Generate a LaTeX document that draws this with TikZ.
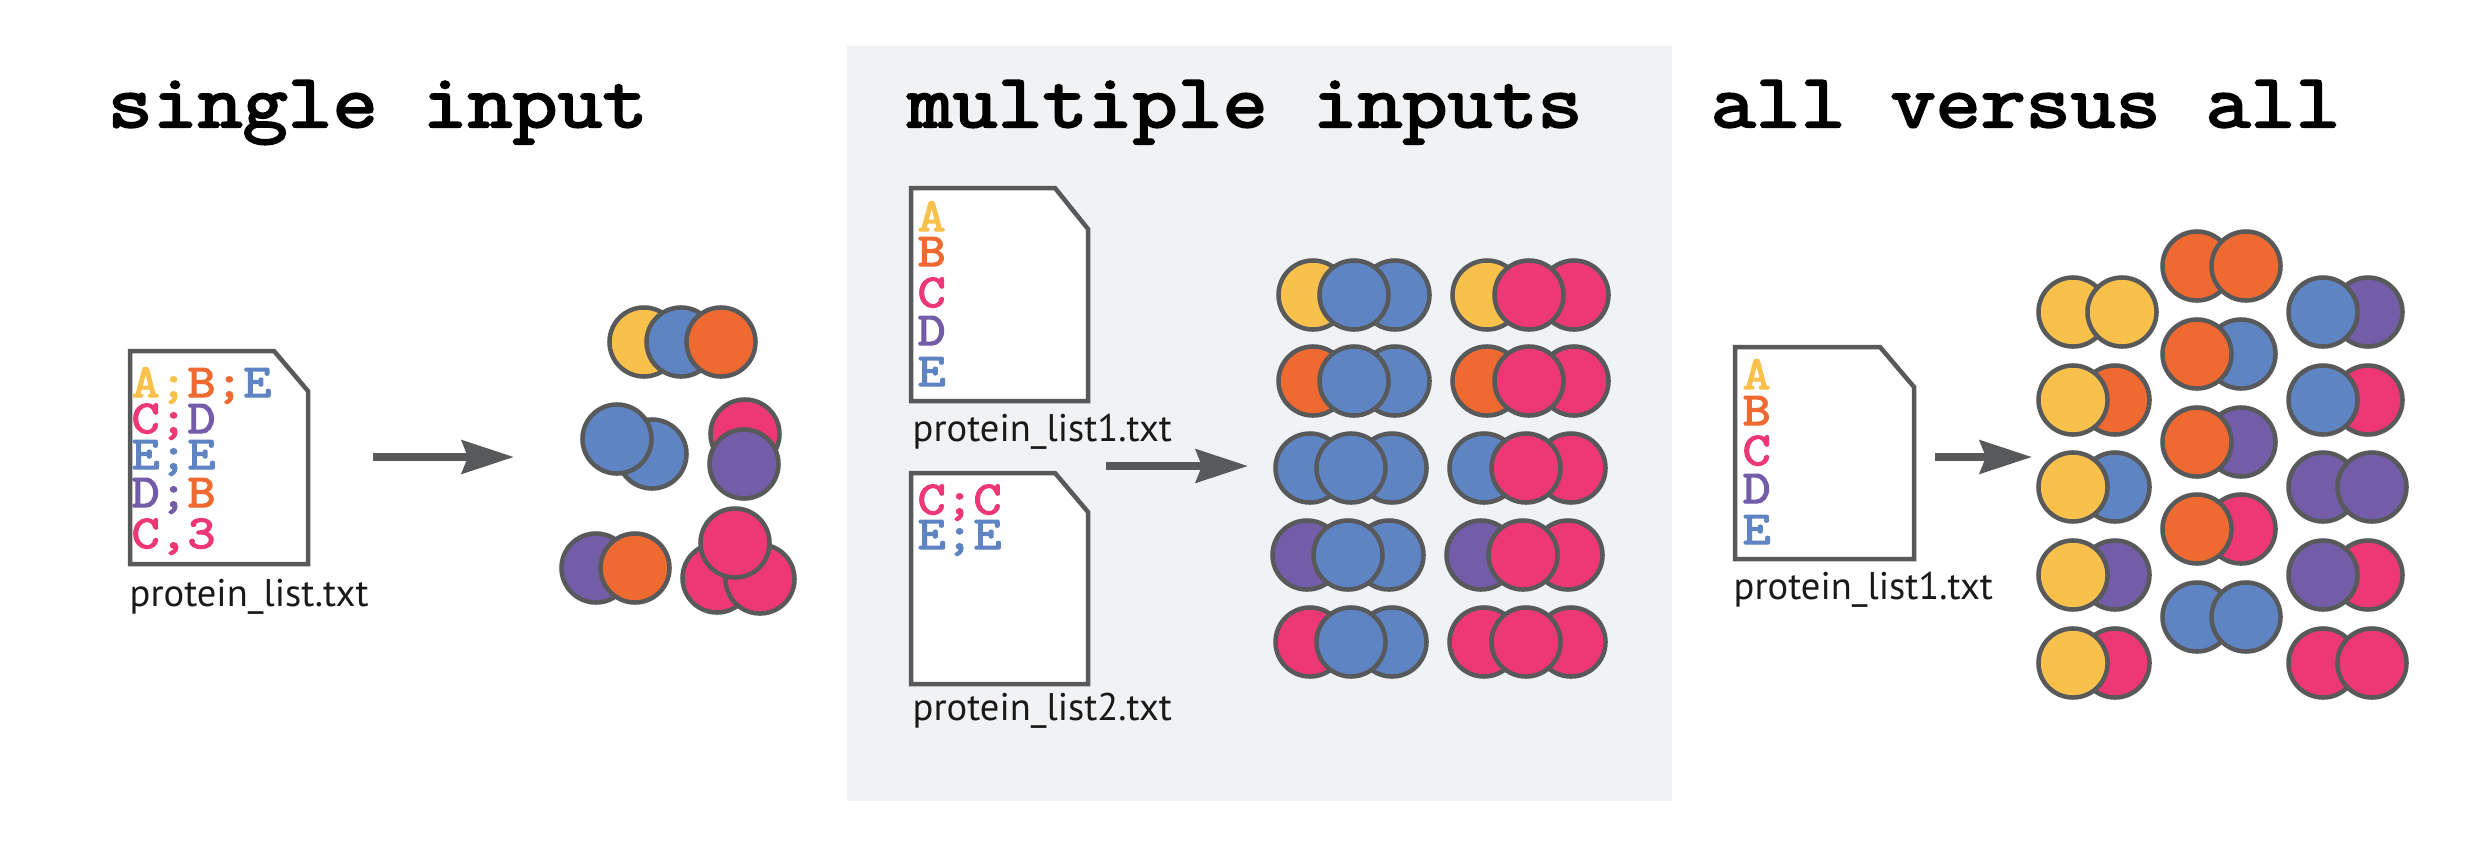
\documentclass[tikz,border=0pt]{standalone}
\usepackage{fontspec}
\setmainfont{PT Sans}
\newfontfamily\typefont[FakeBold=3, FakeStretch=1.15]{Latin Modern Mono}
\usetikzlibrary{arrows.meta}
\definecolor{cA}{HTML}{F9C04B}
\definecolor{cB}{HTML}{EE6A31}
\definecolor{cC}{HTML}{EE3775}
\definecolor{cD}{HTML}{735CA8}
\definecolor{cE}{HTML}{5F84C3}
\definecolor{edgegray}{HTML}{58595B}
\definecolor{panelgray}{HTML}{F1F2F4}
\tikzset{
  ball/.style={circle, draw=edgegray, line width=0.045cm, minimum size=0.69cm, inner sep=0pt},
  docfile/.style={draw=edgegray, fill=white, line width=0.045cm},
  flow/.style={draw=edgegray, line width=0.08cm, -{Stealth[length=0.52cm, width=0.33cm, inset=0.06cm]}},
  title/.style={anchor=base west, inner sep=0pt, font=\typefont\fontsize{21.6pt}{22pt}\selectfont},
  entry/.style={anchor=base west, inner sep=0pt, font=\typefont\fontsize{13.4pt}{13.4pt}\selectfont},
  filename/.style={anchor=base west, inner sep=0pt, text=black!90, font=\fontsize{10.95pt}{12pt}\selectfont},
}
% file outline: left, top, right, bottom, cut x, cut y
\newcommand{\docfile}[6]{\draw [docfile] (#1,#2) -- (#5,#2) -- (#3,#6) -- (#3,#4) -- (#1,#4) -- cycle;}
\begin{document}
\begin{tikzpicture}[x=0.01cm, y=-0.01cm]
\useasboundingbox (0,0) rectangle (2481,848);
\fill [panelgray] (847,46) rectangle (1672,801);

\node [title] (title1) at (107,127) {single input};
\node [title] (title2) at (907,127) {multiple inputs};
\node [title] (title3) at (1710,127) {all versus all};

% single input
\docfile{130}{351}{308}{564}{274}{391}
\node [entry] (s1) at (131,397) {\textcolor{cA}{A;}\textcolor{cB}{B;}\textcolor{cE}{E}};
\node [entry] (s2) at (131,433) {\textcolor{cC}{C;}\textcolor{cD}{D}};
\node [entry] (s3) at (131,469) {\textcolor{cE}{E;E}};
\node [entry] (s4) at (131,507) {\textcolor{cD}{D;}\textcolor{cB}{B}};
\node [entry] (s5) at (131,548) {\textcolor{cC}{C,3}};
\node [filename] (sname) at (129,606) {protein\_list.txt};
\coordinate (sa) at (373,457);
\coordinate (sb) at (514,457);
\draw [flow] (sa) -- (sb);
\node [ball, fill=cA] (y1) at (644,342) {};
\node [ball, fill=cE] (y2) at (681,342) {};
\node [ball, fill=cB] (y3) at (721,342) {};
\node [ball, fill=cE] (e2) at (652,454) {};
\node [ball, fill=cE] (e1) at (617,439) {};
\node [ball, fill=cC] (c1) at (745,434) {};
\node [ball, fill=cD] (d1) at (744,464) {};
\node [ball, fill=cD] (d2) at (596,568) {};
\node [ball, fill=cB] (b2) at (635,568) {};
\node [ball, fill=cC] (c2) at (717,578) {};
\node [ball, fill=cC] (c3) at (760,579) {};
\node [ball, fill=cC] (c4) at (735,543) {};

% multiple inputs
\docfile{911}{188}{1088}{401}{1055}{229}
\foreach \name/\col/\ypos in {A/cA/231, B/cB/266, C/cC/307, D/cD/345, E/cE/386}
  \node [entry, text=\col] (m\name) at (917,\ypos) {\name};
\node [filename] (mname1) at (912,441) {protein\_list1.txt};
\docfile{911}{473}{1088}{684}{1055}{512}
\node [entry] (m6) at (917,514) {\textcolor{cC}{C;C}};
\node [entry] (m7) at (917,549) {\textcolor{cE}{E;E}};
\node [filename] (mname2) at (912,720) {protein\_list2.txt};
\coordinate (ma) at (1106,466);
\coordinate (mb) at (1248,466);
\draw [flow] (ma) -- (mb);
\foreach \col/\x/\y in {cA/1313/295, cB/1313/381, cE/1310/468, cD/1307/555, cC/1310/642} {
  \node [ball, fill=cE] (l\y c) at (\x+82,\y) {};
  \node [ball, fill=\col] (l\y a) at (\x,\y) {};
  \node [ball, fill=cE] (l\y b) at (\x+41,\y) {};
}
\foreach \col/\x/\y in {cA/1487/295, cB/1487/381, cE/1484/468, cD/1481/555, cC/1484/642} {
  \node [ball, fill=cC] (r\y c) at (\x+87,\y) {};
  \node [ball, fill=\col] (r\y a) at (\x,\y) {};
  \node [ball, fill=cC] (r\y b) at (\x+42,\y) {};
}

% all versus all
\docfile{1735}{347}{1914}{559}{1880}{387}
\foreach \name/\col/\ypos in {A/cA/389, B/cB/425, C/cC/465, D/cD/503, E/cE/544}
  \node [entry, text=\col] (v\name) at (1742,\ypos) {\name};
\node [filename] (vname) at (1733,599) {protein\_list1.txt};
\coordinate (va) at (1935,457);
\coordinate (vb) at (2032,457);
\draw [flow] (va) -- (vb);
% column 1
\node [ball, fill=cA] (v1a) at (2073,312) {};
\node [ball, fill=cA] (v1b) at (2122,312) {};
\foreach \col/\y in {cB/400, cE/487, cD/575, cC/663} {
  \node [ball, fill=\col] (va\y) at (2115,\y) {};
  \node [ball, fill=cA] (vb\y) at (2073,\y) {};
}
% column 2
\node [ball, fill=cB] (v2a) at (2197,266) {};
\node [ball, fill=cB] (v2b) at (2246,266) {};
\foreach \col/\y in {cE/354, cD/442, cC/529} {
  \node [ball, fill=\col] (vc\y) at (2241,\y) {};
  \node [ball, fill=cB] (vd\y) at (2197,\y) {};
}
\node [ball, fill=cE] (v2c) at (2197,617) {};
\node [ball, fill=cE] (v2d) at (2246,617) {};
% column 3
\foreach \cola/\colb/\y in {cE/cD/312, cE/cC/400, cD/cC/575} {
  \node [ball, fill=\colb] (ve\y) at (2368,\y) {};
  \node [ball, fill=\cola] (vf\y) at (2323,\y) {};
}
\node [ball, fill=cD] (v3a) at (2323,487) {};
\node [ball, fill=cD] (v3b) at (2372,487) {};
\node [ball, fill=cC] (v3c) at (2323,663) {};
\node [ball, fill=cC] (v3d) at (2372,663) {};
\end{tikzpicture}
\end{document}
